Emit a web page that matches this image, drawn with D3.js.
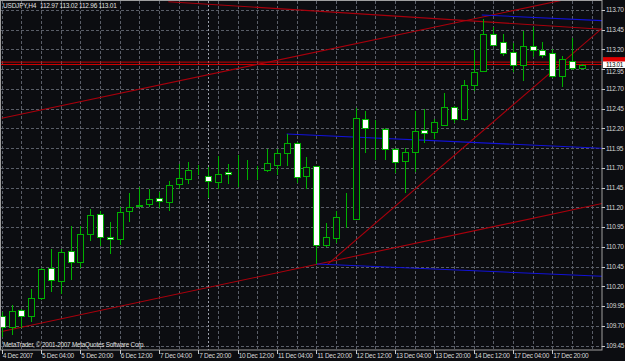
<!DOCTYPE html>
<html>
<head>
<meta charset="utf-8">
<script src="https://cdn.jsdelivr.net/npm/d3@7"></script>
<style>
  body { margin: 0; background: #0c0d11; }
  svg { display: block; font-family: "Liberation Sans", Arial, sans-serif; }
</style>
</head>
<body>
<div id="chart"></div>
<script>
var width = 625,
    height = 361;

// symbol header
var symbolName = "USDJPY,H4";
var lastOHLC = ["112.97", "113.02", "112.96", "113.01"];

// H4 bars, 4 Dec 12:00 .. 18 Dec 08:00
var opens  = [109.82,109.69,109.90,109.83,110.06,110.44,110.27,110.65,110.51,110.86,
              111.12,110.82,110.80,111.15,111.22,111.24,111.32,111.27,111.50,111.56,
              111.67,111.60,111.52,111.65,111.63,111.65,111.67,111.68,111.74,111.89,
              112.02,111.60,111.72,110.72,110.81,111.05,111.06,112.32,112.21,112.19,
              111.94,111.79,111.90,112.18,112.15,112.25,112.47,112.32,112.75,112.93,
              113.40,113.30,113.17,113.00,113.25,113.19,113.15,112.86,113.06,112.97];
var highs  = [109.88,109.97,109.92,110.17,110.43,110.68,110.68,110.96,110.96,111.18,
              111.15,111.01,111.20,111.38,111.46,111.44,111.40,111.53,111.75,111.78,
              111.74,111.71,111.85,111.75,111.86,111.80,111.72,111.94,111.94,112.13,
              112.03,111.84,111.73,111.00,111.15,111.38,112.46,112.42,112.31,112.21,
              111.95,111.95,112.42,112.45,112.32,112.65,112.48,112.81,113.19,113.58,
              113.49,113.40,113.28,113.43,113.48,113.30,113.20,113.12,113.34,113.02];
var lows   = [109.56,109.59,109.67,109.75,110.03,110.13,110.11,110.28,110.44,110.77,
              110.71,110.61,110.73,111.01,111.21,111.21,111.19,111.15,111.44,111.50,
              111.61,111.32,111.44,111.50,111.46,111.55,111.55,111.65,111.61,111.72,
              111.51,111.44,110.48,110.70,110.75,110.94,111.04,111.89,111.80,111.80,
              111.64,111.38,111.65,112.02,112.07,112.24,112.27,112.29,112.68,112.91,
              113.24,113.12,112.92,112.80,113.11,113.09,112.84,112.73,112.94,112.96];
var closes = [109.69,109.89,109.82,110.06,110.42,110.28,110.63,110.51,110.86,111.11,
              110.83,110.80,111.14,111.21,111.23,111.31,111.28,111.48,111.57,111.67,
              111.67,111.53,111.63,111.62,111.63,111.65,111.67,111.76,111.89,112.01,
              111.59,111.71,110.72,110.82,111.08,111.05,112.33,112.21,112.21,111.94,
              111.77,111.90,112.17,112.14,112.28,112.47,112.32,112.75,112.92,113.40,
              113.26,113.15,113.00,113.24,113.19,113.13,112.86,113.08,112.97,113.01];

// time axis labels, one every 4 bars
var timeLabels = ["4 Dec 2007", "5 Dec 04:00", "5 Dec 20:00", "6 Dec 12:00", "7 Dec 04:00",
                  "7 Dec 20:00", "10 Dec 12:00", "11 Dec 04:00", "11 Dec 20:00", "12 Dec 12:00",
                  "13 Dec 04:00", "13 Dec 20:00", "14 Dec 12:00", "17 Dec 04:00", "17 Dec 20:00"];
var priceTicks = [109.45, 109.70, 109.95, 110.20, 110.45, 110.70, 110.95, 111.20, 111.45,
                  111.70, 111.95, 112.20, 112.45, 112.70, 112.95, 113.20, 113.45, 113.70];

// drawn objects: [bar0, price0, bar1, price1]
var redTrends  = [[0, 109.63, 61.07, 111.25],
                  [0, 112.33, 61.07, 113.93],
                  [16.95, 113.805, 61.07, 113.456],
                  [33.06, 110.47, 61.07, 113.468]];
var blueTrends = [[48.83, 113.637, 61.07, 113.565],
                  [28.99, 112.130, 61.07, 111.949],
                  [32.04, 110.485, 61.07, 110.329]];
var hLines = [113.04, 113.01];
var bidPrice = 113.01;
var vLineBar = 21;

var plotRight = 602, plotBottom = 350;

var x = d3.scaleLinear().domain([0, 59]).range([1.7, 581.7]);
var y = d3.scaleLinear().domain([109.45, 113.70]).range([345.7, 10]);

var svg = d3.select("#chart").append("svg")
    .attr("width", width)
    .attr("height", height);

svg.append("rect")
    .attr("width", width).attr("height", height)
    .attr("fill", "#0c0d11");

svg.append("clipPath").attr("id", "plot")
  .append("rect")
    .attr("x", 1).attr("y", 1)
    .attr("width", plotRight - 1).attr("height", plotBottom - 1);

var g = svg.append("g").attr("clip-path", "url(#plot)");

// grid
var gridBars = d3.range(0, 62, 2);
g.selectAll("line.vgrid")
    .data(gridBars)
  .enter().append("line")
    .attr("class", "vgrid")
    .attr("x1", function(d) { return Math.round(x(d)) + 0.5; })
    .attr("x2", function(d) { return Math.round(x(d)) + 0.5; })
    .attr("y1", 1).attr("y2", plotBottom)
    .attr("stroke", "#5a5e68")
    .attr("stroke-dasharray", "3,2");

g.selectAll("line.hgrid")
    .data(priceTicks)
  .enter().append("line")
    .attr("class", "hgrid")
    .attr("x1", 1).attr("x2", plotRight)
    .attr("y1", function(d) { return Math.round(y(d)) + 0.5; })
    .attr("y2", function(d) { return Math.round(y(d)) + 0.5; })
    .attr("stroke", "#5a5e68")
    .attr("stroke-dasharray", "3,2");

// vertical line object
g.append("line")
    .attr("x1", Math.round(x(vLineBar)) + 0.5)
    .attr("x2", Math.round(x(vLineBar)) + 0.5)
    .attr("y1", 1).attr("y2", plotBottom)
    .attr("stroke", "#9a9ea8")
    .attr("stroke-dasharray", "2,2");

// horizontal price lines
g.selectAll("line.hline")
    .data(hLines)
  .enter().append("line")
    .attr("x1", 1).attr("x2", plotRight)
    .attr("y1", function(d) { return y(d); })
    .attr("y2", function(d) { return y(d); })
    .attr("stroke", "#e00000")
    .attr("stroke-width", 0.9);

function drawTrends(data, color) {
  g.selectAll(null)
      .data(data)
    .enter().append("line")
      .attr("x1", function(d) { return x(d[0]); })
      .attr("y1", function(d) { return y(d[1]); })
      .attr("x2", function(d) { return x(d[2]); })
      .attr("y2", function(d) { return y(d[3]); })
      .attr("stroke", color)
      .attr("stroke-width", 1.1);
}
drawTrends(redTrends, "#a8000c");
drawTrends(blueTrends, "#1212d8");

// candles
var bars = d3.range(opens.length);
var candle = g.selectAll("g.candle")
    .data(bars)
  .enter().append("g")
    .attr("class", "candle");

candle.append("line")
    .attr("x1", function(i) { return Math.round(x(i)) + 0.5; })
    .attr("x2", function(i) { return Math.round(x(i)) + 0.5; })
    .attr("y1", function(i) { return Math.round(y(highs[i])); })
    .attr("y2", function(i) { return Math.round(y(lows[i])); })
    .attr("stroke", "#00b000");

candle.append("rect")
    .attr("x", function(i) { return Math.round(x(i)) - 2.5; })
    .attr("width", 6)
    .attr("y", function(i) { return Math.round(y(Math.max(opens[i], closes[i]))) + 0.5; })
    .attr("height", function(i) {
      return Math.max(0, Math.round(y(Math.min(opens[i], closes[i]))) - Math.round(y(Math.max(opens[i], closes[i]))));
    })
    .attr("fill", function(i) { return closes[i] < opens[i] ? "#ffffff" : "#0c0d11"; })
    .attr("stroke", "#00b000");

// frame
svg.append("rect")
    .attr("x", 0.5).attr("y", 0.5)
    .attr("width", plotRight - 0.5).attr("height", plotBottom - 0.5)
    .attr("fill", "none")
    .attr("stroke", "#a0a0a0");

// price axis
var pa = svg.append("g");
pa.selectAll("line")
    .data(priceTicks)
  .enter().append("line")
    .attr("x1", plotRight).attr("x2", plotRight + 3)
    .attr("y1", function(d) { return Math.round(y(d)) + 0.5; })
    .attr("y2", function(d) { return Math.round(y(d)) + 0.5; })
    .attr("stroke", "#c8c8c8");
pa.selectAll("text")
    .data(priceTicks)
  .enter().append("text")
    .attr("x", 606)
    // the label next to the bid marker is pushed just below it
    .attr("y", function(d) { return Math.abs(d - bidPrice) < 0.1 ? y(d) + 2.5 : y(d); })
    .attr("dy", "0.35em")
    .attr("fill", "#d8d8d8")
    .style("font-size", "6.5px")
    .style("letter-spacing", "-0.3px")
    .text(function(d) { return d.toFixed(2); });

// line / bid markers
svg.append("rect")
    .attr("x", 603).attr("y", y(hLines[0]) - 5)
    .attr("width", 22).attr("height", 6)
    .attr("fill", "#e00000");
svg.append("rect")
    .attr("x", 603).attr("y", y(bidPrice) - 3)
    .attr("width", 22).attr("height", 6.5)
    .attr("fill", "#ffffff");
svg.append("text")
    .attr("x", 606).attr("y", y(bidPrice) + 0.3)
    .attr("dy", "0.35em")
    .attr("fill", "#000")
    .style("font-size", "6.3px")
    .style("letter-spacing", "-0.3px")
    .text(bidPrice.toFixed(2));

// time axis
var ta = svg.append("g");
ta.selectAll("line")
    .data(timeLabels)
  .enter().append("line")
    .attr("x1", function(d, i) { return Math.round(x(i * 4)) + 0.5; })
    .attr("x2", function(d, i) { return Math.round(x(i * 4)) + 0.5; })
    .attr("y1", plotBottom).attr("y2", plotBottom + 4)
    .attr("stroke", "#c8c8c8");
ta.selectAll("text")
    .data(timeLabels)
  .enter().append("text")
    .attr("x", function(d, i) { return x(i * 4) + 1; })
    .attr("y", 358)
    .attr("fill", "#d8d8d8")
    .style("font-size", "6.5px")
    .style("letter-spacing", "-0.3px")
    .text(function(d) { return d; });

// header and copyright
var header = [symbolName].concat(lastOHLC);
var headerX = [3, 40, 59.5, 79, 98.5];
svg.selectAll("text.hdr")
    .data(header)
  .enter().append("text")
    .attr("class", "hdr")
    .attr("x", function(d, i) { return headerX[i]; })
    .attr("y", 8)
    .attr("fill", "#e0e0e0")
    .style("font-size", "6.5px")
    .style("letter-spacing", "-0.2px")
    .text(function(d) { return d; });

svg.append("text")
    .attr("x", 3).attr("y", 347)
    .attr("fill", "#e0e0e0")
    .style("font-size", "6.3px")
    .style("letter-spacing", "-0.2px")
    .text("MetaTrader, \u00a9 2001-2007 MetaQuotes Software Corp.");
</script>
</body>
</html>
